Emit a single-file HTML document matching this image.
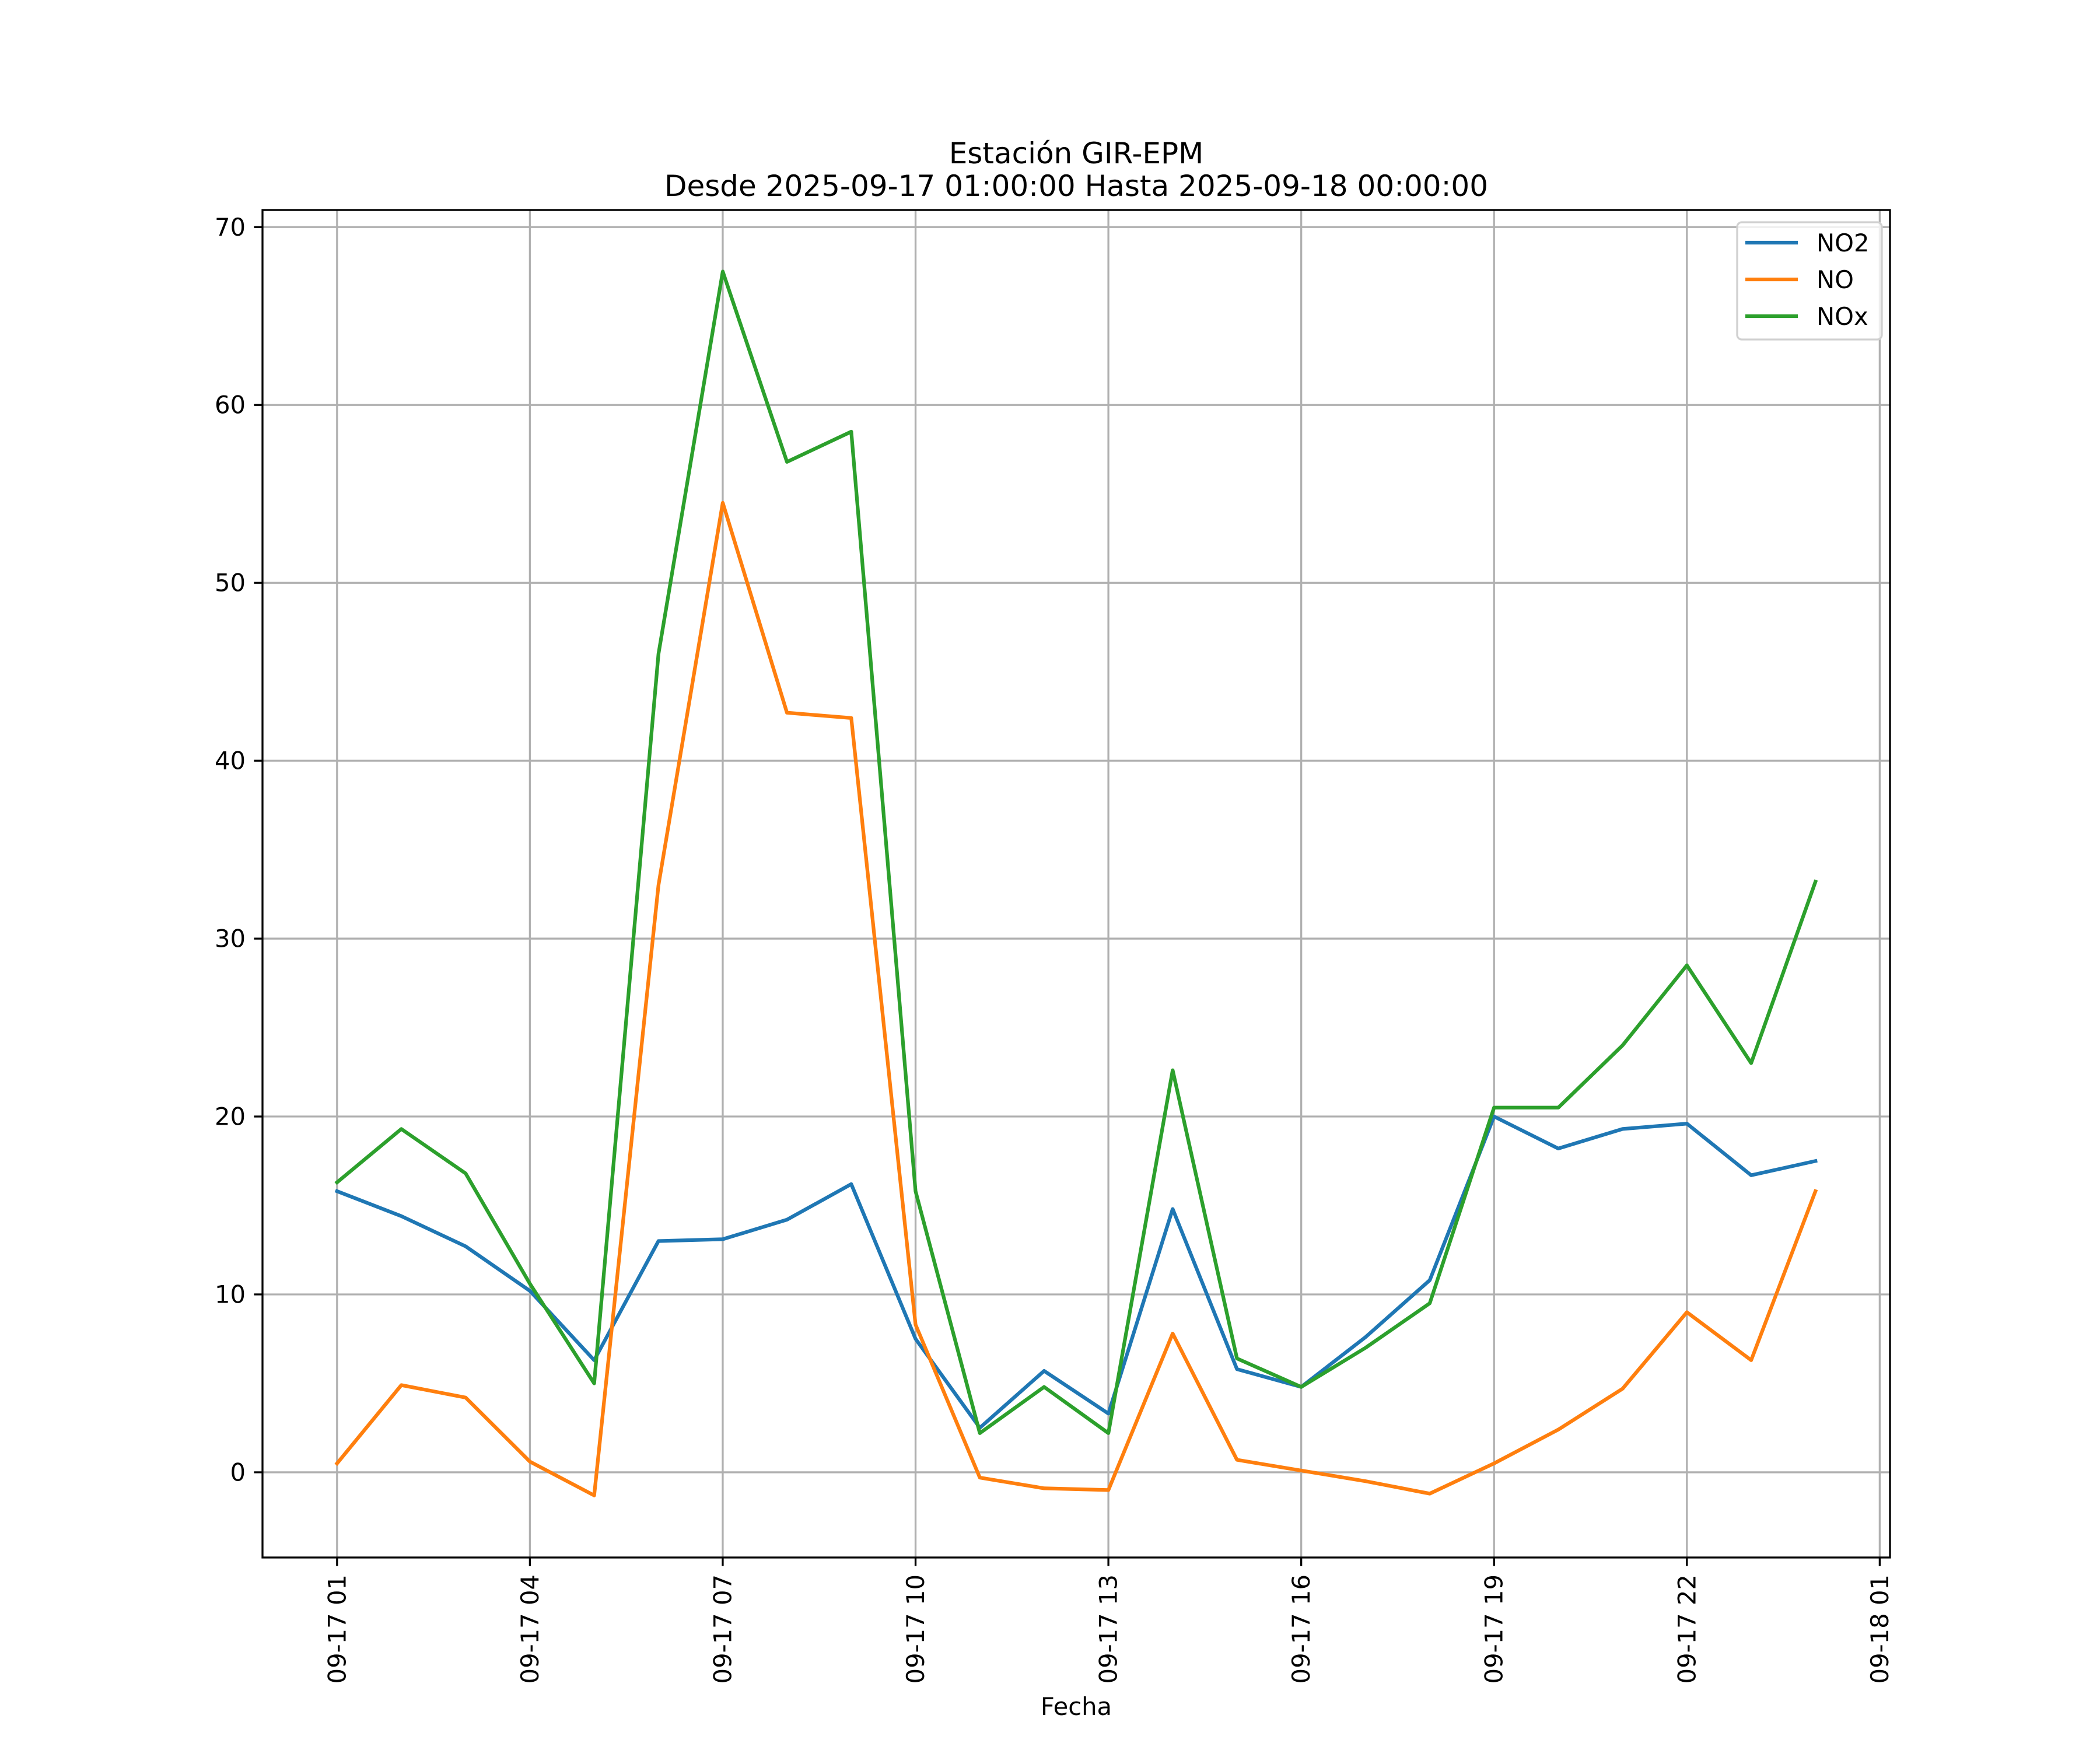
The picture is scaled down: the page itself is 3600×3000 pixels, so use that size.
<!DOCTYPE html>
<html><head><meta charset="utf-8"><style>html,body{margin:0;padding:0;background:#fff}svg{display:block}</style></head>
<body>
<svg id="chart" width="3600" height="3000" viewBox="0 0 3600 3000" xmlns="http://www.w3.org/2000/svg" font-family="'DejaVu Sans','Liberation Sans',sans-serif">
<rect width="3600" height="3000" fill="#fff"/>
<text x="1845" y="280" font-size="50" text-anchor="middle">Estación GIR-EPM</text>
<text x="1845" y="336" font-size="50" text-anchor="middle">Desde 2025-09-17 01:00:00 Hasta 2025-09-18 00:00:00</text>
<g id="grid"></g>
<g id="series"></g>
<rect x="450" y="360" width="2790" height="2310" fill="none" stroke="#000" stroke-width="3.3"/>
<g id="ticks"></g>
<text x="1845" y="2940" font-size="41.7" text-anchor="middle">Fecha</text>
<g>
<rect x="2978" y="381" width="248" height="201" rx="8" fill="#fff" fill-opacity="0.8" stroke="#d0d0d0" stroke-width="3.3"/>
<line x1="2992" y1="416" x2="3082" y2="416" stroke="#1f77b4" stroke-width="6.25"/>
<text x="3114" y="431" font-size="41.7">NO2</text>
<line x1="2992" y1="479" x2="3082" y2="479" stroke="#ff7f0e" stroke-width="6.25"/>
<text x="3114" y="494" font-size="41.7">NO</text>
<line x1="2992" y1="542" x2="3082" y2="542" stroke="#2ca02c" stroke-width="6.25"/>
<text x="3114" y="557" font-size="41.7">NOx</text>
</g>
</svg>
<script>
const hours = [0,1,2,3,4,5,6,7,8,9,10,11,12,13,14,15,16,17,18,19,20,21,22,23];
const no2 = [15.8,14.4,12.7,10.2,6.3,13.0,13.1,14.2,16.2,7.5,2.5,5.7,3.3,14.8,5.8,4.8,7.6,10.8,20.0,18.2,19.3,19.6,16.7,17.5];
const no = [0.5,4.9,4.2,0.6,-1.3,33.0,54.5,42.7,42.4,8.3,-0.3,-0.9,-1.0,7.8,0.7,0.1,-0.5,-1.2,0.5,2.4,4.7,9.0,6.3,15.8];
const nox = [16.3,19.3,16.8,10.6,5.0,46.0,67.5,56.8,58.5,15.8,2.2,4.8,2.2,22.6,6.4,4.8,7.0,9.5,20.5,20.5,24.0,28.5,23.0,33.2];
const xTickHours = [0,3,6,9,12,15,18,21,24];
const xTickLabels = ["09-17 01","09-17 04","09-17 07","09-17 10","09-17 13","09-17 16","09-17 19","09-17 22","09-18 01"];
const yTicks = [0,10,20,30,40,50,60,70];

const NS="http://www.w3.org/2000/svg";
const L=450,R=3240,T=360,B=2670;
const xMin=-1.16,xMax=24.16,yMin=-4.79,yMax=70.96;
function xs(h){return L+(h-xMin)/(xMax-xMin)*(R-L);}
function ys(v){return B-(v-yMin)/(yMax-yMin)*(B-T);}
function mk(tag,attrs,parent){const e=document.createElementNS(NS,tag);for(const k in attrs)e.setAttribute(k,attrs[k]);parent.appendChild(e);return e;}
const grid=document.getElementById('grid'),ticks=document.getElementById('ticks'),series=document.getElementById('series');
xTickHours.forEach((h,i)=>{
  const x=xs(h);
  const g=mk('line',{x1:x,y1:T,x2:x,y2:B,stroke:'#b0b0b0','stroke-width':3.3},grid);
  
  
  const t=mk('line',{x1:x,y1:B,x2:x,y2:B+14.6,stroke:'#000','stroke-width':3.3},ticks);
  
  
  const lb=mk('text',{x:0,y:0,'font-size':41.7,'text-anchor':'end','dominant-baseline':'central',transform:`translate(${x},${B+29}) rotate(-90)`},ticks);
  lb.textContent=xTickLabels[i];
  
  
});
yTicks.forEach(v=>{
  const y=ys(v);
  const g=mk('line',{x1:L,y1:y,x2:R,y2:y,stroke:'#b0b0b0','stroke-width':3.3},grid);
  
  
  const t=mk('line',{x1:L-14.6,y1:y,x2:L,y2:y,stroke:'#000','stroke-width':3.3},ticks);
  
  
  const lb=mk('text',{x:L-29,y:y,'font-size':41.7,'text-anchor':'end','dominant-baseline':'central'},ticks);
  lb.textContent=String(v);
  
  
});
[[no2,'#1f77b4','no2-line'],[no,'#ff7f0e','no-line'],[nox,'#2ca02c','nox-line']].forEach(([vals,c,n])=>{
  const pts=hours.map((h,i)=>xs(h).toFixed(1)+','+ys(vals[i]).toFixed(1)).join(' ');
  const p=mk('polyline',{points:pts,fill:'none',stroke:c,'stroke-width':6.25,'stroke-linejoin':'round','stroke-linecap':'square'},series);
  
  
});
</script>
</body></html>
